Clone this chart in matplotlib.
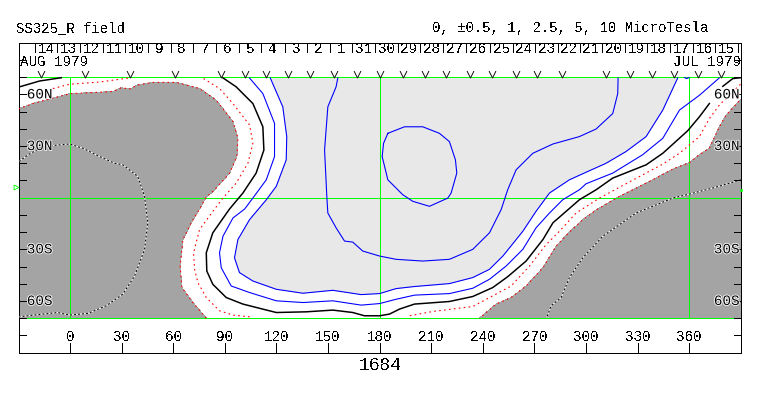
import matplotlib
matplotlib.use("Agg")
import matplotlib.pyplot as plt
from matplotlib.path import Path
import matplotlib.patheffects as pe

plt.rcParams['font.family'] = ['Liberation Mono', 'DejaVu Sans Mono']
plt.rcParams['text.antialiased'] = False

# ---- data (lon, lat) ----
gray_left_lon = [-30,-21.6,-0.3,24.9,29.7,35.6,38.5,48.2,61.7,75.3,85,94.7,97.6,97,92.7,83,79,75.3,70.4,65.6,64,65,71.4,79.2,-30]
gray_left_lat = [51.6,54.7,60.4,61.7,63.8,63.2,65.3,67,67,63.4,56.6,44.2,34.6,24,14.2,3.6,0.2,-6.6,-14.6,-24.3,-39.7,-52.2,-60.9,-70,-70]
gray_right_lon = [391,381.5,377.6,371.8,366,360.2,350.5,336.9,319.5,306.5,298.2,290.4,282.7,275,265.2,256.5,247.8,238.1,391]
gray_right_lat = [58.2,47.9,41.2,28.8,25,20.4,16.6,9.4,0.8,-6.8,-12.7,-20,-28.1,-40.7,-51.3,-58,-61.8,-70,-70]

red_a_lon = [-10,-0.3,17.2,28.8,34.6]
red_a_lat = [63.4,65.9,67.2,68.8,69.6]
red_b_lon = [77.6,86.9,94.7,104.4,106.3,103.4,96.6,88.9,84,75.3,71.8,72.4,74.3,79.2,86.9,94.7,106.3]
red_b_lat = [69.2,63.4,54.7,42.2,31.6,20,8.5,-0.2,-6.6,-18.5,-32,-41.6,-49.3,-58,-65.7,-68.2,-69.4]
red_c_lon = [389.9,377.6,371.8,366,354.4,344.7,323.3,307.9,294.3,284.6,276.9,267.2,256.5,245.8,234.2,210.9,197.4]
red_c_lat = [65.9,53.8,46,35.5,25.8,19.5,8.1,-0.2,-8.9,-19.5,-27.2,-39.7,-51.3,-57,-63.2,-66.1,-68.6]

black_a_lon = [-29.4,-17.7,-5.1]
black_a_lat = [64.4,67.8,69.7]
black_b_lon = [88.9,96.6,106.3,112.1,112.7,108.2,100.5,92.7,83,79.2,79.5,83,90.8,100.5,119.9,137.3,152.8,164.4,171.2,180,185.8,191.6,200.3,220.6,234.2,245.8,254.5,265.2,275,280.8,296.2,305.9,315.6,335,344.7,359.2,366,371.8]
black_b_lat = [69.6,64.4,54.7,41.2,27.7,14.3,2.7,-6.6,-20.4,-32,-42.6,-50.3,-58,-61.8,-66.7,-66.3,-65.3,-66.7,-68.6,-68.6,-67.6,-64.7,-61.8,-60.3,-57.4,-52.2,-45.9,-36.8,-24.3,-14.6,-1.2,4.6,11.4,19.1,25.8,38.9,47,54.7]
black_c_lon = [379.6,385.4,389.9]
black_c_lat = [64.7,69.2,69.7]

blue_1_lon = [104.3,112.1,118.9,118.9,114.1,106.3,101.5,94.7,88.9,86.9,87.9,93.7,104.4,119.9,135.4,152.8,169.3,180,189.6,200.3,220.6,234.2,243.9,253.6,263.3,271,278.8,286.5,296.2,300.1,315.6,332.9,344.7,354.4,366,377.6]
blue_1_lat = [69.6,60.5,43.2,23.9,10.4,-0.2,-6.6,-11.8,-22.4,-32,-40.7,-51.3,-55.1,-59.9,-60.9,-59.9,-62.4,-61.5,-59,-56.6,-55.7,-52.6,-47.4,-39.7,-30,-17.5,-8.9,-1.2,4.6,8.1,14.3,24.9,34.5,50.9,59.5,69.6]
blue_2_lon = [116.4,123.7,126,125.7,119.9,114.1,104.4,97.6,95.6,98.5,106.3,119.9,135.4,152.8,169.3,180,189.6,200.3,220.6,234.2,243.9,251.7,263.3,271,278.8,290.4,300.1,311.7,323.3,335,344.7,353.4]
blue_2_lat = [69.6,52.8,35.5,22,6.6,-1.2,-12.7,-24.3,-34.9,-43.5,-48.4,-53.2,-55.5,-53.8,-56.3,-55.7,-52.8,-51.6,-49.9,-46.4,-41.6,-33.9,-19.5,-7.9,2.7,10.4,14.8,20,26.8,35.5,50.9,69.6]
blue_3_lon = [155.7,154.7,149.9,148,149.3,149.9,154.7,159.6,164.4,170.2,180,189.6,205.1,220.6,234.2,243.9,250.7,254.5,259.4,269.1,280.8,296.2,305.9,315.6,318.5,318.7]
blue_3_lat = [69.6,64.4,52.8,27.7,0.8,-8.9,-17.5,-25.2,-25.8,-31,-33.9,-35.8,-36.8,-35.8,-30,-20.4,-6.9,4.6,16.2,25.8,31.2,35.5,39.9,48.9,60.5,69.6]
blue_loop_lon = [184.8,194.5,205.1,214.8,220.6,224.1,224.9,221.6,219.7,209,199.3,193.5,184.8,181.5,182.3,184.8]
blue_loop_lat = [37.4,41.2,41.2,37.4,32.6,22,14.3,2.7,-0.2,-5,-2.1,1.7,10.4,23.9,31.6,37.4]
blue_bit_lon = [357.3,358.5,360]
blue_bit_lat = [69.8,69.2,69.8]

dot_l_lon = [-29.7,-24.5,-15.8,-10,-0.3,7.5,17.2,25.9,30.7,39.4,43.3,45.2,43.3,37.5,30.7,21,10.4,-0.3,-7.1,-15.8,-24.5,-29.4]
dot_l_lat = [21,24.9,29.7,30.3,31.2,28.7,23.9,20,19.1,12.3,0.8,-14.6,-30,-45.5,-56,-62.8,-67.2,-68.2,-66.7,-67.6,-68.6,-69.2]
dot_r_lon = [390.2,373.7,360.2,350.5,329.2,309.8,298.2,290.4,285.6,279.7,277.4]
dot_r_lat = [10.4,5.6,2.1,-0.2,-8.9,-22.4,-34.9,-46.4,-58,-62.8,-69.2]

day_labels = ['14','13','12','11','10','9','8','7','6','5','4','3','2','1','31','30','29','28','27','26','25','24','23','22','21','20','19','18','17','16','15']
day_ticks = [-20.6,-7.4,5.8,19,32.1,45.3,58.4,71.6,84.9,98,111.2,124.7,137.9,150.9,164,177.4,190.5,203.7,216.9,230.4,244,257.3,270.5,283.5,296.5,309.4,322.8,335.7,348.9,362.1,375.3,388.3]
v_marks = [-16.7,8.4,34.6,61,87.5,101.5,114,126.5,139.8,153.5,166.6,180.2,193.5,206.5,218.7,232.3,245.6,259.6,271.8,286.3,311.9,325.6,338.7,351.3,365.2,378.6]
lon_ticks = [0,30,60,90,120,150,180,210,240,270,300,330,360]
lat_ticks = [-80,-70,-60,-50,-40,-30,-20,-10,10,20,30,40,50,60,70,80]
lat_labels = {60:'60N',30:'30N',-30:'30S',-60:'60S'}
green_lats = [70,0,-70]
green_lons = [0,180,360]

GRAY = '#a4a4a4'; LIGHT = '#e8e8e8'; GREEN = '#00ff00'; BLUE = '#0000ff'; RED = '#ff0000'
PX = 0.72  # one pixel at 100 dpi, in points

W, H = 763, 396
XMIN, XMAX, YMIN, YMAX = -29.72, 390.19, -90.22, 89.87
fig = plt.figure(figsize=(W/100, H/100), dpi=100, facecolor='white')
ax = fig.add_axes([19/W, 43/H, 722/W, 310/H])
ax.set_xlim(XMIN, XMAX)
ax.set_ylim(YMIN, YMAX)
ax.set_xticks([]); ax.set_yticks([])
for s in ax.spines.values():
    s.set_linewidth(PX); s.set_color('black')

ax.fill(gray_left_lon, gray_left_lat, color=GRAY, lw=0, zorder=1, antialiased=False)
ax.fill(gray_right_lon, gray_right_lat, color=GRAY, lw=0, zorder=1, antialiased=False)
ax.fill(blue_2_lon, blue_2_lat, color=LIGHT, lw=0, zorder=1, antialiased=False)

for v in green_lats:
    ax.axhline(v, color=GREEN, lw=PX, zorder=2)
for v in green_lons:
    ax.plot([v, v], [-70, 70], color=GREEN, lw=PX, zorder=2)

def line(x, y, **k):
    ax.plot(x, y, solid_joinstyle='round', zorder=3, **k)

for x, y in [(gray_left_lon[:-1], gray_left_lat[:-1]), (gray_right_lon[:-1], gray_right_lat[:-1]),
             (red_a_lon, red_a_lat), (red_b_lon, red_b_lat), (red_c_lon, red_c_lat)]:
    line(x, y, color=RED, lw=PX*1.1, ls=(0, (1.5, 3.0)))
for x, y in [(black_a_lon, black_a_lat), (black_b_lon, black_b_lat), (black_c_lon, black_c_lat)]:
    line(x, y, color='black', lw=PX*1.5)
for x, y in [(blue_1_lon, blue_1_lat), (blue_2_lon, blue_2_lat), (blue_3_lon, blue_3_lat),
             (blue_loop_lon, blue_loop_lat), (blue_bit_lon, blue_bit_lat)]:
    line(x, y, color=BLUE, lw=PX*1.1)
for x, y in [(dot_l_lon, dot_l_lat), (dot_r_lon, dot_r_lat)]:
    line(x, y, color='white', lw=PX)
    line(x, y, color='black', lw=PX, ls=(0, (2, 2)))

# frame ticks
for t in lat_ticks:
    ax.plot([0, 7/722], [t, t], transform=ax.get_yaxis_transform(), color='black', lw=PX, zorder=4)
    ax.plot([1-7/722, 1], [t, t], transform=ax.get_yaxis_transform(), color='black', lw=PX, zorder=4)
for t in lon_ticks:
    ax.plot([t, t], [YMIN, -84.4], color='black', lw=PX, zorder=4)
    ax.text(t, -80.8, str(t), ha='center', va='center', fontsize=10.3, zorder=5)
for t in day_ticks:
    ax.plot([t, t], [YMAX, 84.6], color='black', lw=PX, zorder=4)
for i, d in enumerate(day_labels):
    ax.text((day_ticks[i]+day_ticks[i+1])/2, 86.2, d, ha='center', va='center', fontsize=10.3, zorder=5)

v_path = Path([(-1, 1), (0, -1), (1, 1)], [Path.MOVETO, Path.LINETO, Path.LINETO])
ax.plot(v_marks, [71.6]*len(v_marks), ls='none', marker=v_path, ms=5, mfc='none', mec='black', mew=PX*0.9, zorder=4)

halo = [pe.withStroke(linewidth=1.2, foreground='white')]
for lat, lab in lat_labels.items():
    for lon in (-25.2, 374.4):
        t = ax.text(lon, lat, lab, ha='left', va='center', fontsize=10.3, zorder=5, path_effects=halo)
        t.set_antialiased(True)
ax.text(-29.2, 78.7, 'AUG 1979', ha='left', va='center', fontsize=10.3, zorder=5)
ax.text(350.4, 78.7, 'JUL 1979', ha='left', va='center', fontsize=10.3, zorder=5)

# small green markers beside the frame
ax.plot([-31.5], [6.5], marker='>', ms=3.5, mfc='none', mec=GREEN, mew=0.6, clip_on=False, ls='none', zorder=5)
ax.plot([XMAX], [4.2], marker='s', ms=1, color=GREEN, clip_on=False, ls='none', zorder=5)

fig.text(16/W, 1-27.7/H, 'SS325_R field', ha='left', va='center', fontsize=10.1)
fig.text(431.5/W, 1-28/H, '0, \u00b10.5, 1, 2.5, 5, 10 MicroTesla', ha='left', va='center', fontsize=10.1)
fig.text(380.3/W, 1-366/H, '1684', ha='center', va='center', fontsize=13)

fig.savefig('out.png', dpi=100)
